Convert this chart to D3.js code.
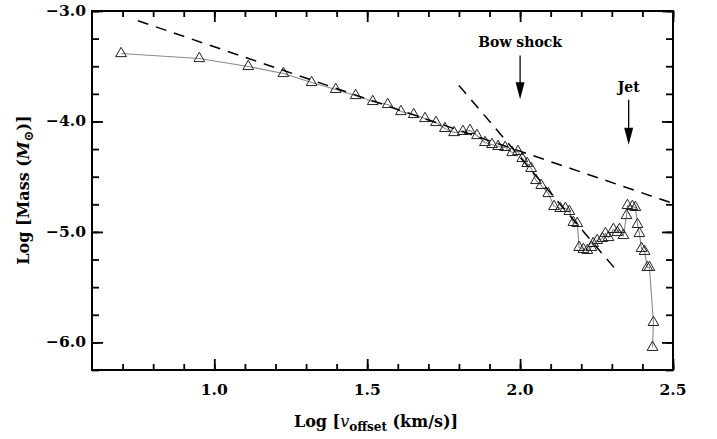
<!DOCTYPE html>
<html>
<head>
<meta charset="utf-8">
<script src="https://cdn.jsdelivr.net/npm/d3@7"></script>
<style>
body { margin: 0; background: #fff; }
svg text { font-family: "DejaVu Serif", serif; font-weight: bold; fill: #000; }
</style>
</head>
<body>
<svg width="717" height="439"></svg>
<script>
// log velocity offset vs log mass
var logV = [0.695, 0.951, 1.111, 1.226, 1.318, 1.397, 1.462, 1.518, 1.567, 1.610,
    1.652, 1.689, 1.725, 1.754, 1.784, 1.813, 1.836, 1.859, 1.885, 1.908,
    1.928, 1.951, 1.974, 1.993, 2.007, 2.023, 2.036, 2.052, 2.069, 2.092,
    2.111, 2.131, 2.148, 2.161, 2.174, 2.187, 2.193, 2.207, 2.220, 2.233,
    2.239, 2.252, 2.269, 2.279, 2.289, 2.305, 2.318, 2.325, 2.338, 2.348,
    2.351, 2.367, 2.377, 2.384, 2.390, 2.397, 2.407, 2.416, 2.423, 2.436, 2.433]
var logMass = [-3.385, -3.430, -3.502, -3.566, -3.647, -3.710, -3.765, -3.819, -3.846, -3.910,
    -3.937, -3.973, -4.009, -4.063, -4.100, -4.090, -4.081, -4.127, -4.190, -4.208,
    -4.226, -4.235, -4.281, -4.271, -4.335, -4.380, -4.425, -4.534, -4.579, -4.652,
    -4.769, -4.787, -4.787, -4.814, -4.914, -4.923, -5.140, -5.158, -5.167, -5.140,
    -5.104, -5.077, -5.059, -5.014, -5.050, -4.977, -5.005, -4.977, -5.032, -4.851,
    -4.760, -4.769, -4.778, -4.932, -5.014, -5.149, -5.176, -5.321, -5.321, -5.819, -6.045]

// power-law fits (end points)
var fitShallowX = [0.75, 2.5], fitShallowY = [-3.088, -4.742]
var fitSteepX = [1.8, 2.318], fitSteepY = [-3.674, -5.357]

var xTicks = [1.0, 1.5, 2.0, 2.5]
var yTicks = [-3.0, -4.0, -5.0, -6.0]
var arrows = [{label: "Bow shock", x: 2.0, top: -3.33, bottom: -3.8, ty: -3.33},
              {label: "Jet", x: 2.355, top: -3.73, bottom: -4.21, ty: -3.73}]

var margin = {left: 92, top: 11, right: 44, bottom: 69},
    width = 717 - margin.left - margin.right,
    height = 439 - margin.top - margin.bottom

var svg = d3.select("svg")
var g = svg.append("g").attr("transform", "translate(" + margin.left + "," + margin.top + ")")

var x = d3.scaleLinear().domain([0.6, 2.5]).range([0, width])
var y = d3.scaleLinear().domain([-6.25, -3.0]).range([height, 0])

g.append("clipPath").attr("id", "clip")
    .append("rect").attr("width", width).attr("height", height)

var minorX = d3.range(7, 26).map(d => d / 10)
var minorY = d3.range(-25, -11).map(d => d / 4)

function tickAxis(axisFn, scale, vals, size) {
    return axisFn(scale).tickValues(vals).tickSize(size).tickFormat("")
}

function drawAxes(sel) {
    sel.selectAll(".domain").remove()
    sel.selectAll("line").attr("stroke", "#000").attr("stroke-width", 1.8)
}

// minor + major ticks on all four sides, pointing inward
g.append("g").attr("transform", "translate(0," + height + ")").call(tickAxis(d3.axisBottom, x, minorX, -6)).call(drawAxes)
g.append("g").attr("transform", "translate(0," + height + ")").call(tickAxis(d3.axisBottom, x, xTicks, -11)).call(drawAxes)
g.append("g").call(tickAxis(d3.axisTop, x, minorX, -6)).call(drawAxes)
g.append("g").call(tickAxis(d3.axisTop, x, xTicks, -11)).call(drawAxes)
g.append("g").call(tickAxis(d3.axisLeft, y, minorY, -7)).call(drawAxes)
g.append("g").call(tickAxis(d3.axisLeft, y, yTicks, -11)).call(drawAxes)
g.append("g").attr("transform", "translate(" + width + ",0)").call(tickAxis(d3.axisRight, y, minorY, -7)).call(drawAxes)
g.append("g").attr("transform", "translate(" + width + ",0)").call(tickAxis(d3.axisRight, y, yTicks, -11)).call(drawAxes)

// tick labels
g.selectAll(".xlab").data(xTicks).enter().append("text")
    .attr("x", d => x(d)).attr("y", height + 25)
    .attr("text-anchor", "middle").style("font-size", "15.5px")
    .text(d => d.toFixed(1))
g.selectAll(".ylab").data(yTicks).enter().append("text")
    .attr("x", -6).attr("y", d => y(d) + 5)
    .attr("text-anchor", "end").style("font-size", "15.5px")
    .text(d => "\u2212" + Math.abs(d).toFixed(1))

var plot = g.append("g").attr("clip-path", "url(#clip)")

var line = d3.line().x(d => x(d[0])).y(d => y(d[1]))

plot.append("path")
    .datum(d3.zip(logV, logMass))
    .attr("d", line)
    .attr("fill", "none").attr("stroke", "#8a8a8a").attr("stroke-width", 1.1)

plot.selectAll(".pt").data(d3.zip(logV, logMass)).enter().append("path")
    .attr("d", d3.symbol(d3.symbolTriangle, 50))
    .attr("transform", d => "translate(" + x(d[0]) + "," + y(d[1]) + ")")
    .attr("fill", "none").attr("stroke", "#222").attr("stroke-width", 1)

;[[fitShallowX, fitShallowY], [fitSteepX, fitSteepY]].forEach(function (f) {
    plot.append("path")
        .datum(d3.zip(f[0], f[1]))
        .attr("d", line)
        .attr("fill", "none").attr("stroke", "#000").attr("stroke-width", 1.5)
        .attr("stroke-dasharray", "11,8")
})

// annotation arrows
arrows.forEach(function (a) {
    var ax = x(a.x), y0 = y(a.top) + 8, y1 = y(a.bottom)
    g.append("text").attr("x", ax).attr("y", y(a.ty)).attr("text-anchor", "middle")
        .style("font-size", "14px").text(a.label)
    g.append("line").attr("x1", ax).attr("x2", ax).attr("y1", y0).attr("y2", y1 - 14)
        .attr("stroke", "#000").attr("stroke-width", 1.3)
    g.append("path").attr("d", "M" + (ax - 4.5) + "," + (y1 - 17) + "L" + (ax + 4.5) + "," + (y1 - 17) + "L" + ax + "," + y1 + "Z")
        .attr("fill", "#000")
})

// frame
g.append("rect").attr("width", width).attr("height", height)
    .attr("fill", "none").attr("stroke", "#000").attr("stroke-width", 2)

// axis titles
var xt = svg.append("text").attr("x", 376).attr("y", 427).attr("text-anchor", "middle").style("font-size", "16px")
xt.append("tspan").text("Log [")
xt.append("tspan").style("font-style", "italic").style("font-weight", "normal").text("v")
xt.append("tspan").attr("dy", 4).style("font-size", "12px").text("offset")
xt.append("tspan").attr("dy", -4).text(" (km/s)]")

var yt = svg.append("text").attr("transform", "translate(29," + 190 + ") rotate(-90)")
    .attr("text-anchor", "middle").style("font-size", "16px")
yt.append("tspan").text("Log [Mass (")
yt.append("tspan").style("font-style", "italic").text("M")
yt.append("tspan").attr("dy", 4).style("font-size", "13px").text("\u2299")
yt.append("tspan").attr("dy", -4).text(")]")
</script>
</body>
</html>
